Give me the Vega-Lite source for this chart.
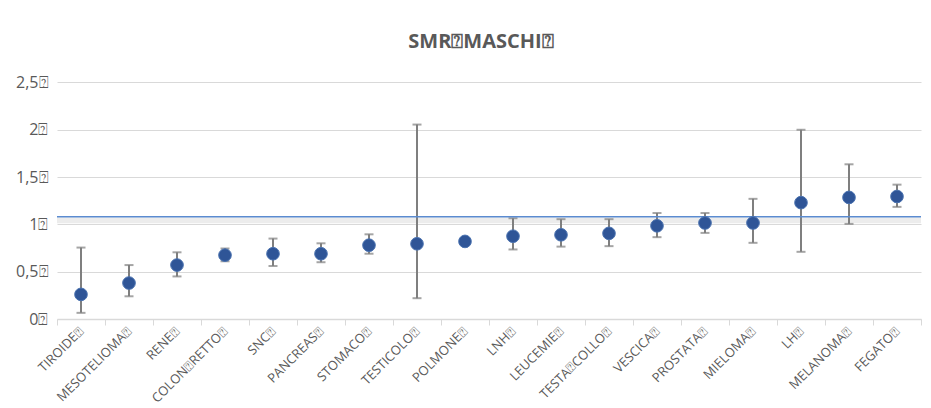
{
  "$schema": "https://vega.github.io/schema/vega-lite/v6.json",
  "width": 864,
  "height": 246,
  "autosize": {"type": "none"},
  "padding": {"left": 57, "top": 73, "right": 10, "bottom": 89},
  "background": "white",
  "title": {
    "text": "SMR⍰MASCHI⍰",
    "font": "Open Sans",
    "fontSize": 20,
    "fontWeight": "bold",
    "color": "#595959",
    "offset": 21,
    "anchor": "middle",
    "dx": -8
  },
  "config": {
    "view": {"stroke": null},
    "font": "Open Sans"
  },
  "datasets": {
    "smr": [
      {"sede": "TIROIDE⍰", "smr": 0.26, "lo": 0.065, "hi": 0.755},
      {"sede": "MESOTELIOMA⍰", "smr": 0.38, "lo": 0.24, "hi": 0.57},
      {"sede": "RENE⍰", "smr": 0.57, "lo": 0.45, "hi": 0.705},
      {"sede": "COLON⍰RETTO⍰", "smr": 0.675, "lo": 0.61, "hi": 0.745},
      {"sede": "SNC⍰", "smr": 0.69, "lo": 0.56, "hi": 0.85},
      {"sede": "PANCREAS⍰", "smr": 0.69, "lo": 0.6, "hi": 0.8},
      {"sede": "STOMACO⍰", "smr": 0.78, "lo": 0.69, "hi": 0.895},
      {"sede": "TESTICOLO⍰", "smr": 0.795, "lo": 0.22, "hi": 2.055},
      {"sede": "POLMONE⍰", "smr": 0.82, "lo": 0.79, "hi": 0.85},
      {"sede": "LNH⍰", "smr": 0.875, "lo": 0.735, "hi": 1.065},
      {"sede": "LEUCEMIE⍰", "smr": 0.89, "lo": 0.765, "hi": 1.055},
      {"sede": "TESTA⍰COLLO⍰", "smr": 0.905, "lo": 0.77, "hi": 1.055},
      {"sede": "VESCICA⍰", "smr": 0.985, "lo": 0.865, "hi": 1.12},
      {"sede": "PROSTATA⍰", "smr": 1.015, "lo": 0.91, "hi": 1.12},
      {"sede": "MIELOMA⍰", "smr": 1.015, "lo": 0.805, "hi": 1.27},
      {"sede": "LH⍰", "smr": 1.23, "lo": 0.71, "hi": 2.0},
      {"sede": "MELANOMA⍰", "smr": 1.285, "lo": 1.005, "hi": 1.635},
      {"sede": "FEGATO⍰", "smr": 1.295, "lo": 1.185, "hi": 1.42}
    ],
    "ref": [{"v": 1.08, "s1": 1.012, "s2": 1.074}]
  },
  "layer": [
    {
      "data": {"name": "ref"},
      "mark": {"type": "rect", "color": "#ececec"},
      "encoding": {
        "y": {"field": "s1", "type": "quantitative", "scale": {"domain": [0, 2.5]}},
        "y2": {"field": "s2"}
      }
    },
    {
      "data": {"name": "smr"},
      "mark": {"type": "rule", "color": "#7f7f7f", "strokeWidth": 2},
      "encoding": {
        "x": {
          "field": "sede", "type": "nominal", "sort": null, "title": null,
          "scale": {"paddingInner": 0, "paddingOuter": 0},
          "axis": {
            "labelAngle": -45, "labelAlign": "right", "labelBaseline": "middle",
            "labelFont": "Open Sans", "labelFontSize": 13, "labelColor": "#595959",
            "labelPadding": 4, "tickBand": "extent", "tickColor": "#d9d9d9",
            "tickSize": 6, "domainColor": "#d9d9d9", "domainWidth": 1.5, "grid": false
          }
        },
        "y": {
          "field": "lo", "type": "quantitative", "title": null,
          "scale": {"domain": [0, 2.5]},
          "axis": {
            "values": [0, 0.5, 1, 1.5, 2, 2.5],
            "labelExpr": "replace(toString(datum.value), '.', ',') + '⍰'",
            "labelFont": "Open Sans", "labelFontSize": 16, "labelColor": "#595959",
            "labelPadding": 9, "ticks": false, "domain": false,
            "gridColor": "#d9d9d9", "gridWidth": 1
          }
        },
        "y2": {"field": "hi"}
      }
    },
    {
      "data": {"name": "smr"},
      "mark": {"type": "tick", "color": "#7f7f7f", "thickness": 2, "size": 9},
      "encoding": {
        "x": {"field": "sede", "type": "nominal", "sort": null},
        "y": {"field": "lo", "type": "quantitative"}
      }
    },
    {
      "data": {"name": "smr"},
      "mark": {"type": "tick", "color": "#7f7f7f", "thickness": 2, "size": 9},
      "encoding": {
        "x": {"field": "sede", "type": "nominal", "sort": null},
        "y": {"field": "hi", "type": "quantitative"}
      }
    },
    {
      "data": {"name": "ref"},
      "mark": {"type": "rule", "color": "#5b8bd0", "strokeWidth": 1.5},
      "encoding": {
        "y": {"field": "v", "type": "quantitative"}
      }
    },
    {
      "data": {"name": "smr"},
      "mark": {"type": "point", "filled": true, "color": "#2f5597", "size": 160, "opacity": 1, "stroke": "#4a72b0", "strokeWidth": 1},
      "encoding": {
        "x": {"field": "sede", "type": "nominal", "sort": null},
        "y": {"field": "smr", "type": "quantitative"}
      }
    }
  ]
}
